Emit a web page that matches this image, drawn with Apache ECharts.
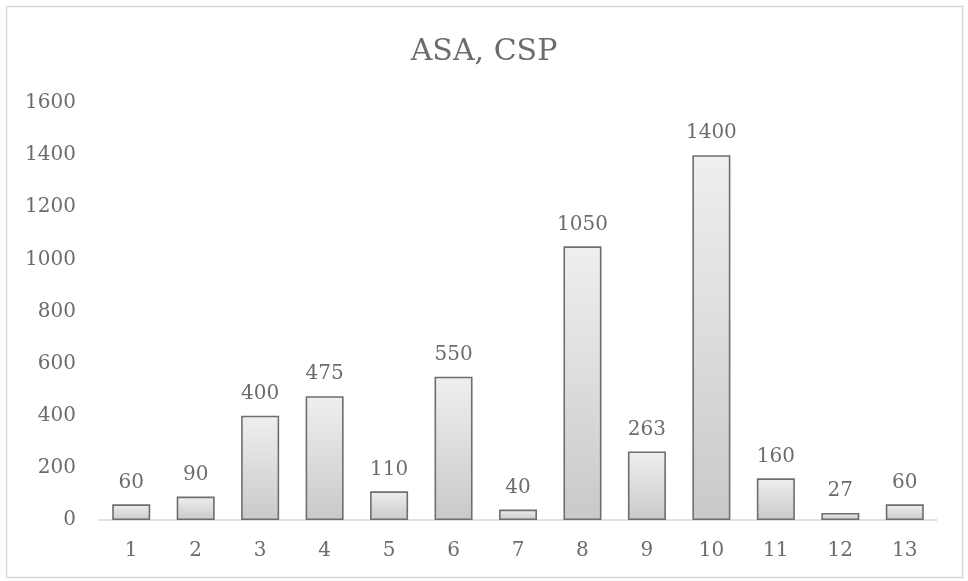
<!DOCTYPE html>
<html>
<head>
<meta charset="utf-8">
<script src="https://cdn.jsdelivr.net/npm/echarts@6/dist/echarts.min.js"></script>
<style>
  html, body { margin: 0; padding: 0; background: #ffffff; }
  #chart { width: 968px; height: 581px; }
</style>
</head>
<body>
<div id="chart"></div>
<script>
// Category labels along the x axis
const categories = ['1', '2', '3', '4', '5', '6', '7', '8', '9', '10', '11', '12', '13'];
// Bar values
const values = [60, 90, 400, 475, 110, 550, 40, 1050, 263, 1400, 160, 27, 60];
// Y axis range
const yMin = 0;
const yMax = 1600;
const yStep = 200;

const FONT = 'DejaVu Serif';
const TEXT = '#6c6c6c';

const chart = echarts.init(document.getElementById('chart'), null, { renderer: 'canvas' });

chart.setOption({
  backgroundColor: '#ffffff',
  animation: false,
  graphic: [{
    type: 'rect',
    shape: { x: 6.5, y: 6.5, width: 956, height: 571 },
    style: { fill: 'none', stroke: '#d9d9d9', lineWidth: 1.5 },
    silent: true
  }],
  title: {
    text: 'ASA, CSP',
    left: 'center',
    top: 32,
    textStyle: { fontFamily: FONT, fontSize: 30, fontWeight: 'normal', color: TEXT }
  },
  grid: { left: 99, right: 31, top: 103, bottom: 61, containLabel: false },
  xAxis: {
    type: 'category',
    data: categories,
    axisLine: { show: true, lineStyle: { color: '#d9d9d9', width: 1.5 } },
    axisTick: { show: false },
    axisLabel: { fontFamily: FONT, fontSize: 20, color: TEXT, margin: 21 },
    splitLine: { show: false }
  },
  yAxis: {
    type: 'value',
    min: yMin,
    max: yMax,
    interval: yStep,
    axisLine: { show: false },
    axisTick: { show: false },
    axisLabel: {
      fontFamily: FONT, fontSize: 20, color: TEXT, margin: 23,
      formatter: (v) => String(v)
    },
    splitLine: { show: false }
  },
  series: [{
    type: 'bar',
    data: values,
    barWidth: '59%',
    itemStyle: {
      color: new echarts.graphic.LinearGradient(0, 0, 0, 1, [
        { offset: 0, color: '#efefef' },
        { offset: 1, color: '#c9c9c9' }
      ]),
      borderColor: '#6e6e6e',
      borderWidth: 1.6
    },
    label: {
      show: true,
      position: 'top',
      distance: 12,
      fontFamily: FONT,
      fontSize: 20,
      color: TEXT
    }
  }]
});
</script>
</body>
</html>
